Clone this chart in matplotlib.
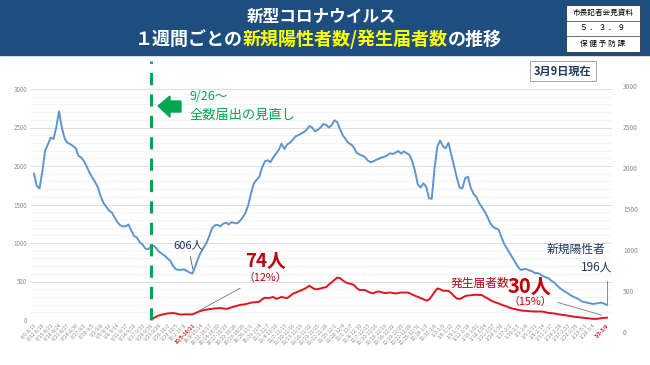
import matplotlib
matplotlib.use('Agg')
import matplotlib.pyplot as plt
import matplotlib.patches as patches
import numpy as np
import pandas as pd

plt.rcParams['font.family'] = ['Noto Sans CJK JP', 'DejaVu Sans']

# weekly (7-day) totals, one value per day, end dates 8/15 .. 3/9
first_day = '2021-08-15'
last_day = '2022-03-09'
report_start = '2021-09-26'

positives = [
    1900, 1740, 1710, 1930, 2200, 2280, 2370, 2350, 2500, 2710,
    2500, 2360, 2300, 2285, 2260, 2230, 2130, 2110, 2060, 1990,
    1910, 1850, 1790, 1720, 1600, 1520, 1470, 1420, 1395, 1330,
    1270, 1230, 1215, 1220, 1240, 1160, 1090, 1070, 1010, 980,
    930, 918, 950, 965, 930, 885, 860, 835, 800, 770,
    700, 660, 650, 652, 658, 635, 615, 606, 700, 800,
    880, 940, 1000, 1090, 1190, 1230, 1235, 1215, 1250, 1265,
    1240, 1270, 1260, 1255, 1285, 1330, 1390, 1490, 1640, 1770,
    1820, 1860, 1980, 2060, 2075, 2050, 2110, 2160, 2210, 2290,
    2220, 2280, 2300, 2340, 2385, 2400, 2420, 2440, 2470, 2520,
    2500, 2450, 2470, 2500, 2545, 2535, 2500, 2530, 2595, 2570,
    2480, 2400, 2350, 2300, 2280, 2240, 2170, 2150, 2135, 2115,
    2070, 2050, 2060, 2080, 2095, 2110, 2120, 2140, 2165, 2155,
    2175, 2195, 2160, 2190, 2165, 2145, 2060, 1930, 1760, 1720,
    1775, 1730, 1580, 1575, 1970, 2250, 2330, 2260, 2230, 2300,
    2150, 2000, 1850, 1720, 1710, 1840, 1860, 1720, 1640, 1600,
    1520, 1465, 1410, 1340, 1260, 1210, 1190, 1175, 1080, 990,
    930, 870, 810, 750, 690, 650, 660, 662, 645, 635,
    610, 610, 595, 570, 555, 541, 510, 485, 450, 415,
    390, 365, 346, 320, 300, 285, 265, 240, 232, 225,
    215, 208, 214, 220, 225, 212, 196,
]

reports = [
    5, 25, 45, 60, 70, 78, 85, 88, 90, 85,
    75, 70, 72, 75, 72, 74, 90, 105, 118, 128,
    135, 140, 145, 150, 152, 155, 150, 145, 150, 165,
    175, 185, 195, 200, 205, 215, 225, 230, 232, 238,
    270, 290, 285, 290, 300, 275, 285, 300, 290, 285,
    310, 340, 355, 370, 385, 400, 420, 445, 420, 400,
    400, 410, 420, 425, 460, 490, 520, 550, 545, 515,
    490, 475, 470, 455, 415, 390, 390, 388, 370, 355,
    345, 365, 370, 360, 350, 352, 358, 350, 345, 350,
    358, 355, 358, 350, 330, 315, 300, 285, 270, 252,
    265, 310, 365, 410, 400, 380, 380, 378, 350, 310,
    280, 272, 290, 310, 318, 322, 325, 328, 325, 325,
    300, 282, 260, 240, 228, 215, 200, 188, 175, 160,
    148, 140, 132, 125, 120, 118, 115, 112, 110, 110,
    110, 108, 100, 92, 88, 85, 78, 72, 66, 62,
    56, 50, 44, 40, 35, 30, 26, 22, 18, 15,
    14, 18, 24, 28, 30,
]

red_labels = ['10/5-10/11', '3/3-3/9']

NAVY = '#1d4e7f'
DARK = '#1f3864'
BLUE = '#5f95cf'
RED = '#e0141e'
DARKRED = '#c0000c'
GREEN = '#00a651'

ends = pd.date_range(first_day, last_day)
starts = ends - pd.Timedelta(days=6)
labels = [f'{s.month}/{s.day}-{e.month}/{e.day}' for s, e in zip(starts, ends)]
offset = (pd.Timestamp(report_start) - pd.Timestamp(first_day)).days

fig = plt.figure(figsize=(6.5, 3.65), dpi=100)

# header band
fig.add_artist(patches.Rectangle((0, 1 - 55 / 365), 1, 55 / 365, transform=fig.transFigure,
                                 color=NAVY, zorder=0))
fig.text(0.495, 0.955, '新型コロナウイルス', color='white', fontsize=12, fontweight='bold',
         ha='center', va='center')

parts = [('１週間ごとの', 'white'), ('新規陽性者数/発生届者数', '#ffff00'), ('の推移', 'white')]
r = fig.canvas.get_renderer()
texts = [fig.text(0, 0.893, s, color=c, fontsize=13, fontweight='bold', va='center')
         for s, c in parts]
widths = [t.get_window_extent(r).width / fig.bbox.width for t in texts]
x = 0.49 - sum(widths) / 2
for t, w in zip(texts, widths):
    t.set_x(x)
    x += w

# badge
bx, by, bw, bh = 566 / 650, 1 - 52 / 365, 74 / 650, 47 / 365
fig.add_artist(patches.Rectangle((bx, by), bw, bh, transform=fig.transFigure,
                                 facecolor='white', edgecolor='#333333', lw=0.6))
for k, s in enumerate(['市長記者会見資料', '５ ． ３ ． ９', '保 健 予 防 課']):
    fig.text(bx + bw / 2, by + bh * (5 - 2 * k) / 6, s, fontsize=5.5, ha='center', va='center',
             color='black')
    if k < 2:
        fig.add_artist(plt.Line2D([bx, bx + bw], [by + bh * (2 - k) / 3] * 2,
                                  transform=fig.transFigure, color='#333333', lw=0.5))

# main axes
ax = fig.add_axes([30 / 650, 1 - 320 / 365, 582 / 650, 231 / 365])
x_pos = np.arange(len(positives))
ax.plot(x_pos, positives, color=BLUE, lw=1.4, zorder=3)
ax.plot(np.arange(len(reports)) + offset, reports, color=RED, lw=1.4, zorder=3)
ax.set_xlim(-1.44, 207.8)
ax.set_ylim(0, 3000)
ax.set_yticks(np.arange(0, 3001, 500))
ax.set_yticks(np.arange(0, 3001, 100), minor=True)
ax.grid(axis='y', which='major', color='#d9d9d9', lw=0.6)
ax.grid(axis='y', which='minor', color='#efefef', lw=0.5)
ax.set_axisbelow(True)
for sp in ax.spines.values():
    sp.set_visible(False)
ax.tick_params(axis='y', which='both', length=0, labelsize=4.5, labelcolor='#8c8c8c', pad=2)

ticks = list(range(0, len(labels) - 3, 3)) + [len(labels) - 1]
ax.set_xticks(ticks)
ax.set_xticklabels([labels[i] for i in ticks], rotation=45, ha='right',
                   rotation_mode='anchor', fontsize=3.6, color='#8c8c8c')
for t in ax.get_xticklabels():
    if t.get_text() in red_labels:
        t.set_color(RED)
        t.set_fontweight('bold')
ax.tick_params(axis='x', length=0, pad=2)

# right-hand scale
ax2 = fig.add_axes([30 / 650, 1 - 332 / 365, 582 / 650, 246 / 365])
ax2.patch.set_visible(False)
for sp in ax2.spines.values():
    sp.set_visible(False)
ax2.set_ylim(0, 3000)
ax2.set_yticks(np.arange(0, 3001, 500))
ax2.set_xticks([])
ax2.yaxis.tick_right()
ax2.tick_params(axis='y', length=0, labelsize=4.8, labelcolor='#8c8c8c', pad=8)

# 9/26 marker
ax.axvline(offset, ymin=0, ymax=1.12, color=GREEN, lw=2.2, ls=(0, (4, 3)), clip_on=False, zorder=4)
arrow = [(158, 106), (170, 96), (170, 101), (181, 101), (181, 112), (170, 112), (170, 117)]
fig.add_artist(patches.Polygon([(px / 650, 1 - py / 365) for px, py in arrow],
                               transform=fig.transFigure, color=GREEN))
fig.text(190 / 650, 1 - 97 / 365, '9/26～', color=GREEN, fontsize=9, va='center')
fig.text(190 / 650, 1 - 115 / 365, '全数届出の見直し', color=GREEN, fontsize=9.5, va='center')

# date box
fig.text(563 / 650, 1 - 71 / 365, '3月9日現在', color=DARK, fontsize=8, fontweight='bold',
         ha='center', va='center',
         bbox=dict(boxstyle='square,pad=0.35', fc='white', ec='#999999', lw=0.6))

# annotations
ax.annotate('', xy=(57.3, 625), xytext=(56, 860),
            arrowprops=dict(arrowstyle='-', color='#555555', lw=0.6))
ax.text(55.5, 965, '606人', color=DARK, fontsize=8, ha='center', va='center')

ax.annotate('', xy=(58, 95), xytext=(75, 430),
            arrowprops=dict(arrowstyle='-', color='#777777', lw=0.6))
ax.text(83.4, 765, '74人', color=DARKRED, fontsize=13.5, fontweight='bold', ha='center', va='center')
ax.text(83.0, 545, '（12%）', color=DARKRED, fontsize=7.8, ha='center', va='center')

ax.text(195, 920, '新規陽性者', color=DARK, fontsize=8.5, ha='center', va='center')
ax.text(207.8, 690, '196人', color=DARK, fontsize=8.5, ha='right', va='center')
ax.plot([206, 206], [220, 506], color='#777777', lw=0.6)

ax.text(160.3, 470, '発生届者数', color=DARKRED, fontsize=8.5, ha='center', va='center')
ax.text(178.3, 445, '30人', color=DARKRED, fontsize=14.5, fontweight='bold', ha='center', va='center')
ax.text(178.6, 234, '（15%）', color=DARKRED, fontsize=7.8, ha='center', va='center')
ax.annotate('', xy=(205.2, 52), xytext=(187.3, 238),
            arrowprops=dict(arrowstyle='-', color='#777777', lw=0.6))

fig.savefig('out.png', dpi=100)
